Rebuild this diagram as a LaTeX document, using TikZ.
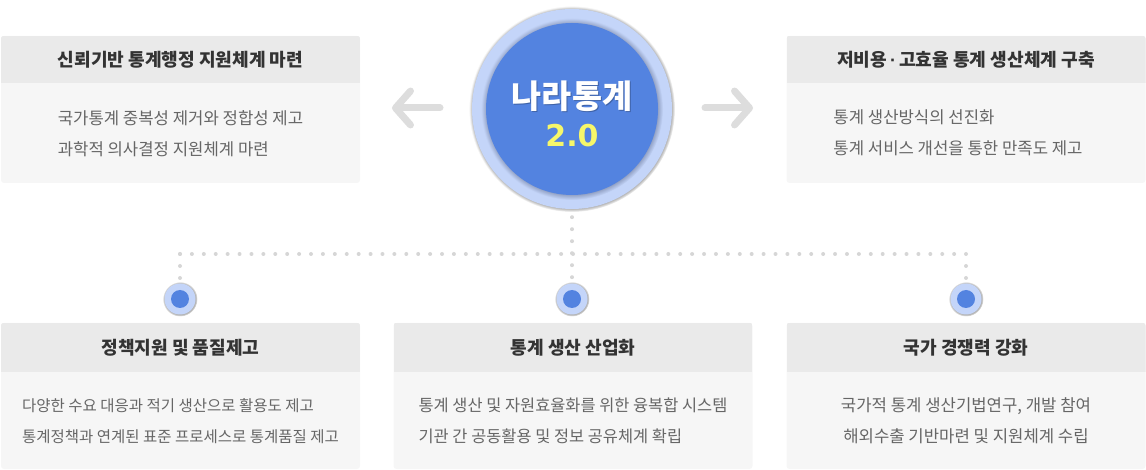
\documentclass[tikz,border=0pt]{standalone}
\usepackage{fontspec}
\setmainfont{Noto Sans CJK KR}
\newfontfamily\numfont{DejaVu Sans}
\newfontfamily\dotfont{Liberation Sans}
\usetikzlibrary{arrows.meta,positioning,calc}
\definecolor{hdrgray}{HTML}{EAEAEA}
\definecolor{bodygray}{HTML}{F6F6F6}
\definecolor{titletxt}{HTML}{333333}
\definecolor{bodytxt}{HTML}{666666}
\definecolor{dotgray}{HTML}{D6D6D6}
\definecolor{arrowgray}{HTML}{DDDDDD}
\definecolor{ringblue}{HTML}{C4D5F9}
\definecolor{coreblue}{HTML}{5383E0}
\definecolor{rimblue}{HTML}{8E9DC0}
\definecolor{shadowgray}{HTML}{B4B4B4}
\definecolor{numyellow}{HTML}{F6F76A}
% soft edges round the blue discs
\pgfdeclareradialshading{halo}{\pgfpoint{0bp}{0bp}}{color(0bp)=(rimblue); color(23.4bp)=(rimblue); color(25bp)=(ringblue); color(50bp)=(ringblue)}
\pgfdeclareradialshading{outshadow}{\pgfpoint{0bp}{0bp}}{color(0bp)=(shadowgray); color(24.2bp)=(shadowgray); color(25bp)=(white); color(50bp)=(white)}
\pgfdeclareradialshading{smallshadow}{\pgfpoint{0bp}{0bp}}{color(0bp)=(shadowgray); color(22.6bp)=(shadowgray); color(25bp)=(white); color(50bp)=(white)}
\tikzset{
  % Cards
  card/.style={fill=bodygray,minimum width=359pt,rounded corners=3pt,inner sep=0pt},
  head/.style={fill=hdrgray,text=titletxt,minimum width=359pt,inner sep=0pt,
               font=\fontsize{18.1pt}{20pt}\selectfont\bfseries},
  body/.style={text=bodytxt,align=left,inner sep=0pt,
               font=\fontsize{16.7pt}{31pt}\selectfont},
  % Emblem
  ring/.style={circle,fill=ringblue,minimum size=200pt,inner sep=0pt},
  core/.style={circle,fill=coreblue,minimum size=172pt,inner sep=0pt},
  ttl/.style={text=white,font=\fontsize{32.7pt}{34pt}\selectfont\bfseries},
  ver/.style={text=numyellow,font=\fontsize{30pt}{32pt}\selectfont\numfont\bfseries},
  % Markers
  mring/.style={circle,fill=ringblue,minimum size=31pt,inner sep=0pt},
  mcore/.style={circle,fill=coreblue,minimum size=18pt,inner sep=0pt},
  % Connectors
  dotline/.style={dotgray,line width=4pt,line cap=round,dash pattern=on 0pt off 12pt},
  garrow/.style={arrowgray,line width=7pt,line cap=round,
                 -{Straight Barb[length=15pt,width=34pt,round]}}
}

\begin{document}
\begin{tikzpicture}[x=1pt,y=-1pt]
  \useasboundingbox (0,0) rectangle (1146,470);

  % --- Top cards ---
  \node[card,minimum height=147pt] (c1) at (180.5,109.5) {};
  \begin{scope}
    \clip[rounded corners=3pt] (c1.south west) rectangle (c1.north east);
    \node[head,minimum height=47pt,anchor=north] (h1) at (c1.north) {신뢰기반 통계행정 지원체계 마련};
  \end{scope}
  \node[body] (b1) at ($(h1.south)!0.5!(c1.south)$) {국가통계 중복성 제거와 정합성 제고\\과학적 의사결정 지원체계 마련};

  \node[card,minimum height=147pt] (c2) at (966,109.5) {};
  \begin{scope}
    \clip[rounded corners=3pt] (c2.south west) rectangle (c2.north east);
    \node[head,minimum height=47pt,anchor=north] (h2) at (c2.north) {저비용{\dotfont\,·\,}고효율 통계 생산체계 구축};
  \end{scope}
  \node[body] (b2) at ($(h2.south)!0.5!(c2.south)+(-8,0)$) {통계 생산방식의 선진화\\통계 서비스 개선을 통한 만족도 제고};

  % --- Emblem ---
  \shade[shading=outshadow] (572,109) circle (103pt);
  \node[ring] (ring) at (572,109) {};
  \shade[shading=halo] (ring.center) circle (91pt);
  \node[core] (core) at (ring.center) {};
  \node[ttl,text=black,opacity=.25] (ttlsh) at (573,97) {나라통계};
  \node[ttl] (ttl) at (572,96) {나라통계};
  \node[ver] (ver) at (572,136) {2.0};

  % Side arrows
  \coordinate (la) at (392,108);
  \coordinate (ra) at (753,108);
  \draw[garrow] (440,108) -- (la);
  \draw[garrow] (705,108) -- (ra);

  % --- Markers ---
  \shade[shading=smallshadow] (180,299) circle (17.5pt);
  \node[mring] (m1) at (180,299) {};
  \node[mcore] (k1) at (m1.center) {};
  \shade[shading=smallshadow] (572,299) circle (17.5pt);
  \node[mring] (m2) at (572,299) {};
  \node[mcore] (k2) at (m2.center) {};
  \shade[shading=smallshadow] (966,299) circle (17.5pt);
  \node[mring] (m3) at (966,299) {};
  \node[mcore] (k3) at (m3.center) {};

  % Dotted tree
  \coordinate (hub) at (572,254);
  \draw[dotline] ([yshift=-8pt]ring.south) -- ([yshift=2pt]m2.north);
  \draw[dotline,dash pattern=on 0pt off 11.91pt] (m1 |- hub) -- (m3 |- hub);
  \draw[dotline] (m1 |- hub) -- ([yshift=2pt]m1.north);
  \draw[dotline] (m3 |- hub) -- ([yshift=2pt]m3.north);

  % --- Bottom cards ---
  \node[card,minimum height=146pt] (c3) at (180.5,396) {};
  \begin{scope}
    \clip[rounded corners=3pt] (c3.south west) rectangle (c3.north east);
    \node[head,minimum height=49pt,anchor=north] (h3) at (c3.north) {정책지원 및 품질제고};
  \end{scope}
  \node[body,font=\fontsize{15.5pt}{31pt}\selectfont] (b3) at ($(h3.south)!0.5!(c3.south)$) {다양한 수요 대응과 적기 생산으로 활용도 제고\\통계정책과 연계된 표준 프로세스로 통계품질 제고};

  \node[card,minimum height=146pt] (c4) at (573,396) {};
  \begin{scope}
    \clip[rounded corners=3pt] (c4.south west) rectangle (c4.north east);
    \node[head,minimum height=49pt,anchor=north] (h4) at (c4.north) {통계 생산 산업화};
  \end{scope}
  \node[body,font=\fontsize{16.4pt}{31pt}\selectfont] (b4) at ($(h4.south)!0.5!(c4.south)$) {통계 생산 및 자원효율화를 위한 융복합 시스템\\기관 간 공동활용 및 정보 공유체계 확립};

  \node[card,minimum height=146pt] (c5) at (966,396) {};
  \begin{scope}
    \clip[rounded corners=3pt] (c5.south west) rectangle (c5.north east);
    \node[head,minimum height=49pt,anchor=north] (h5) at (c5.north) {국가 경쟁력 강화};
  \end{scope}
  \node[body,align=center] (b5) at ($(h5.south)!0.5!(c5.south)$) {국가적 통계 생산기법연구, 개발 참여\\해외수출 기반마련 및 지원체계 수립};
\end{tikzpicture}
\end{document}
